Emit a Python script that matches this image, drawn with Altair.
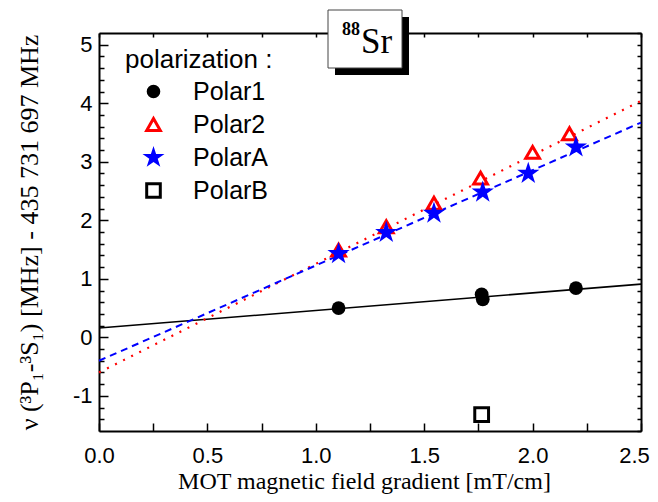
import altair as alt
import pandas as pd

# ---------------- data ----------------
series = ["Polar1", "Polar2", "PolarA", "PolarB"]
polar1_x = [1.105, 1.765, 1.77, 2.20]
polar1_y = [0.50, 0.735, 0.65, 0.84]
polar2_x = [1.105, 1.325, 1.545, 1.76, 2.00, 2.17]
polar2_y = [1.49, 1.89, 2.29, 2.72, 3.16, 3.48]
polarA_x = [1.105, 1.325, 1.545, 1.77, 1.98, 2.20]
polarA_y = [1.43, 1.79, 2.12, 2.48, 2.80, 3.25]
polarB_x = [1.765]
polarB_y = [-1.32]

fit_x = [0.0, 2.5]
fit1_y = [0.16, 0.91]
fit2_y = [-0.60, 4.04]
fitA_y = [-0.40, 3.67]

x_major = [0.0, 0.5, 1.0, 1.5, 2.0, 2.5]
x_minor = [0.0, 0.25, 0.5, 0.75, 1.0, 1.25, 1.5, 1.75, 2.0, 2.25, 2.5]
y_major = [-1, 0, 1, 2, 3, 4, 5]
y_minor = [-1.4, -1.2, -0.8, -0.6, -0.4, -0.2, 0.2, 0.4, 0.6, 0.8,
           1.2, 1.4, 1.6, 1.8, 2.2, 2.4, 2.6, 2.8, 3.2, 3.4, 3.6, 3.8,
           4.2, 4.4, 4.6, 4.8]
y_all = [-1.6, -1.4, -1.2, -1.0, -0.8, -0.6, -0.4, -0.2, 0.0, 0.2, 0.4, 0.6,
         0.8, 1.0, 1.2, 1.4, 1.6, 1.8, 2.0, 2.2, 2.4, 2.6, 2.8, 3.0, 3.2,
         3.4, 3.6, 3.8, 4.0, 4.2, 4.4, 4.6, 4.8, 5.0, 5.2]

x_title = "MOT magnetic field gradient [mT/cm]"
y_title = "ν (³P₁-³S₁) [MHz] - 435 731 697 MHz"
legend_title = "polarization :"

# five-pointed star symbol (unit path)
STAR = ("M0,-1.7L0.382,-0.525L1.617,-0.525L0.618,0.2L1,1.375L0,0.649"
        "L-1,1.375L-0.618,0.2L-1.617,-0.525L-0.382,-0.525Z")

# ---------------- tables ----------------
rows = []
for name, xs, ys in [("Polar1", polar1_x, polar1_y), ("Polar2", polar2_x, polar2_y),
                     ("PolarA", polarA_x, polarA_y), ("PolarB", polarB_x, polarB_y)]:
    for xv, yv in zip(xs, ys):
        rows.append({"series": name, "x": xv, "y": yv})
pts = pd.DataFrame(rows)

fit1 = pd.DataFrame({"x": fit_x, "y": fit1_y})
fit2 = pd.DataFrame({"x": fit_x, "y": fit2_y})
fitA = pd.DataFrame({"x": fit_x, "y": fitA_y})

W, H = 542, 398
SANS = "Liberation Sans, Arial, sans-serif"
SERIF = "Liberation Serif, Times New Roman, serif"

xs_ = alt.Scale(domain=[0, 2.5], nice=False, zero=False)
ys_ = alt.Scale(domain=[-1.6, 5.2], nice=False, zero=False)

# axes
X1 = alt.Axis(orient="bottom", values=x_major, format=".1f", ticks=False, tickSize=0,
              domain=True, domainColor="black", domainWidth=2, grid=False,
              labelFont=SANS, labelFontSize=22, labelColor="black", labelPadding=14,
              labelFlush=False, labelOverlap=False,
              labelOffset={"condition": {"test": "datum.value >= 2.5", "value": -7},
                           "value": 0},
              title=x_title, titleFont=SERIF, titleFontSize=24, titleFontWeight="normal",
              titleColor="black", titleX=265, titleY=57, titleAlign="center",
              titleBaseline="alphabetic")
X2 = alt.Axis(orient="top", offset=-H, values=x_minor, ticks=True, tickSize=8,
              tickColor="black", tickWidth=1.5, labels=False, domain=False, grid=False,
              title=None)
X3 = alt.Axis(orient="bottom", offset=-H, values=x_minor, ticks=True, tickSize=4,
              tickColor="black", tickWidth=1.5, labels=False, domain=True,
              domainColor="black", domainWidth=2, grid=False, title=None)

Y1 = alt.Axis(orient="left", values=y_major, ticks=False, tickSize=0, domain=True,
              domainColor="black", domainWidth=2, grid=False,
              labelFont=SANS, labelFontSize=22, labelColor="black", labelPadding=7,
              labelOverlap=False, labelFlush=False,
              labelExpr="datum.value < 0 ? '-' + abs(datum.value) : '' + datum.value",
              title=y_title, titleFont=SERIF, titleFontSize=26, titleFontWeight="normal",
              titleColor="black", titleX=-62, titleY=199, titleAngle=270,
              titleAlign="center", titleBaseline="alphabetic")
Y2 = alt.Axis(orient="right", offset=-W, values=y_major, ticks=True, tickSize=9,
              tickColor="black", tickWidth=1.5, labels=False, domain=False, grid=False,
              title=None)
Y3 = alt.Axis(orient="right", offset=-W, values=y_minor, ticks=True, tickSize=5,
              tickColor="black", tickWidth=1.5, labels=False, domain=False, grid=False,
              title=None)
Y4 = alt.Axis(orient="left", offset=-W, values=y_all, ticks=True, tickSize=4,
              tickColor="black", tickWidth=1.5, labels=False, domain=True,
              domainColor="black", domainWidth=2, grid=False, title=None)

line1 = alt.Chart(fit1).mark_line(color="black", strokeWidth=1.6).encode(
    x=alt.X("x:Q", scale=xs_, axis=X1), y=alt.Y("y:Q", scale=ys_, axis=Y1))
line2 = alt.Chart(fit2).mark_line(color="#ff0000", strokeWidth=2.2, strokeDash=[2, 7]).encode(
    x=alt.X("x:Q", scale=xs_, axis=X2), y=alt.Y("y:Q", scale=ys_, axis=Y2))
lineA = alt.Chart(fitA).mark_line(color="#0000ff", strokeWidth=2, strokeDash=[7, 5]).encode(
    x=alt.X("x:Q", scale=xs_, axis=X3), y=alt.Y("y:Q", scale=ys_, axis=Y3))

LEG = alt.Legend(orient="none", legendX=26, legendY=14, title=legend_title,
                 titleFont=SANS, titleFontSize=26, titleFontWeight="normal",
                 titleColor="black", titlePadding=6, titleLimit=400,
                 labelFont=SANS, labelFontSize=25, labelColor="black", labelLimit=300,
                 symbolOffset=16, labelOffset=27, rowPadding=7, clipHeight=25, padding=0,
                 symbolSize=185, symbolStrokeWidth=3)

points = alt.Chart(pts).mark_point(size=190, strokeWidth=3, opacity=1).encode(
    x=alt.X("x:Q", scale=xs_, axis=None),
    y=alt.Y("y:Q", scale=ys_, axis=Y4),
    shape=alt.Shape("series:N", scale=alt.Scale(domain=series,
                    range=["circle", "triangle-up", STAR, "square"]), legend=LEG),
    fill=alt.Fill("series:N", scale=alt.Scale(domain=series,
                  range=["black", "white", "#0000ff", "white"]), legend=LEG),
    stroke=alt.Stroke("series:N", scale=alt.Scale(domain=series,
                      range=["transparent", "#ff0000", "transparent", "black"]), legend=LEG),
)

# ---------------- "88Sr" label box ----------------
one = pd.DataFrame({"k": [0]})
shadow = alt.Chart(one).mark_rect(color="black").encode(
    x=alt.value(236), x2=alt.value(310), y=alt.value(-16), y2=alt.value(42))
box = alt.Chart(one).mark_rect(fill="white", stroke="#444444", strokeWidth=1).encode(
    x=alt.value(229), x2=alt.value(303), y=alt.value(-23), y2=alt.value(35))
t88 = alt.Chart(one).mark_text(font=SERIF, fontSize=18, fontWeight="bold", align="left",
                               baseline="alphabetic", color="black").encode(
    x=alt.value(243), y=alt.value(2), text=alt.value("88"))
tSr = alt.Chart(one).mark_text(font=SERIF, fontSize=35, align="left",
                               baseline="alphabetic", color="black").encode(
    x=alt.value(262), y=alt.value(20), text=alt.value("Sr"))

chart = alt.layer(line1, line2, lineA, points, shadow, box, t88, tSr).resolve_axis(
    x="independent", y="independent"
).properties(
    width=W, height=H,
    autosize=alt.AutoSizeParams(type="none"),
    padding={"left": 91, "top": 25, "right": 9, "bottom": 63},
).configure_view(stroke=None)

chart.save("out.html", embed_options={"renderer": "svg", "actions": False})
